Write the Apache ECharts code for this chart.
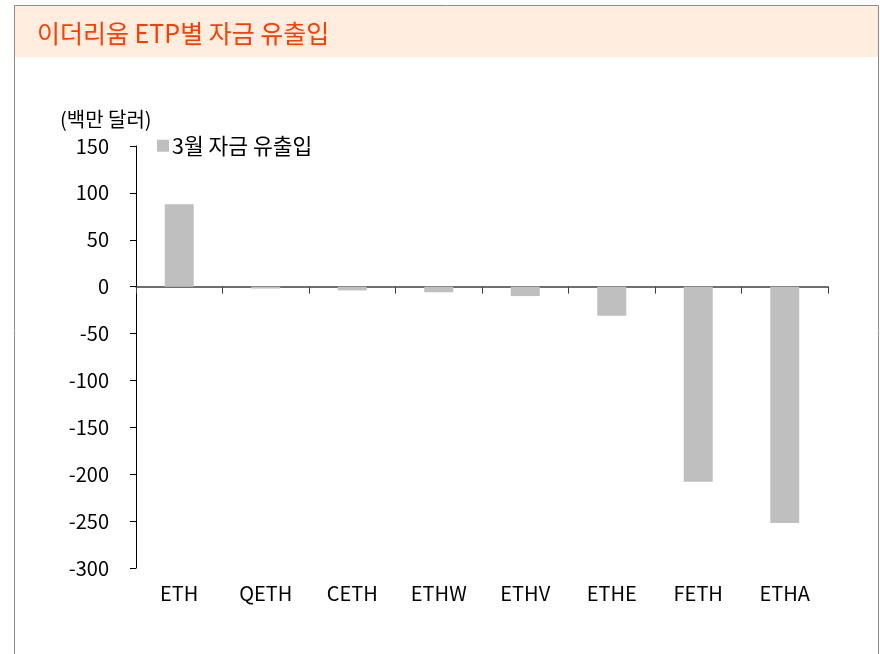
<!DOCTYPE html>
<html>
<head>
<meta charset="utf-8">
<script src="https://cdn.jsdelivr.net/npm/echarts@6/dist/echarts.min.js"></script>
<style>
  html, body { margin: 0; padding: 0; background: #fff; }
  #chart { width: 880px; height: 654px; }
</style>
</head>
<body>
<div id="chart"></div>
<script>
// ETP별 3월 자금 유출입 (백만 달러)
var categories = ['ETH', 'QETH', 'CETH', 'ETHW', 'ETHV', 'ETHE', 'FETH', 'ETHA'];
var flowMarch = [88, -2, -4, -6, -10, -31, -208, -252];
var seriesName = '3월 자금 유출입';

var font = '"Noto Sans CJK KR", "Noto Sans", sans-serif';

var chart = echarts.init(document.getElementById('chart'));

var option = {
    backgroundColor: '#fff',
    textStyle: { fontFamily: font },
    animation: false,
    graphic: [
        {   // 바깥 테두리
            type: 'rect',
            shape: { x: 14.5, y: 5.5, width: 864, height: 660 },
            style: { fill: 'none', stroke: '#8c8c8c', lineWidth: 1 },
            z: 0
        },
        {   // 제목 띠
            type: 'rect',
            shape: { x: 15, y: 6, width: 863, height: 51 },
            style: { fill: '#FFEDDF' },
            z: 0
        }
    ],
    title: [
        {
            text: '이더리움 ETP별 자금 유출입',
            left: 32,
            top: 16,
            textStyle: { color: '#FF3D00', fontSize: 25, fontWeight: 'normal', fontFamily: font }
        },
        {
            text: '(백만 달러)',
            left: 55,
            top: 104,
            textStyle: { color: '#000', fontSize: 20, fontWeight: 'normal', fontFamily: font }
        }
    ],
    legend: {
        left: 152,
        top: 130,
        itemWidth: 12,
        itemHeight: 12,
        itemGap: 4,
        icon: 'rect',
        textStyle: { color: '#000', fontSize: 21.5, fontFamily: font, padding: [0, 0, 0, -2] },
        data: [seriesName]
    },
    grid: { left: 136, right: 52, top: 146, bottom: 86, containLabel: false },
    xAxis: [
        {
            type: 'category',
            data: categories,
            axisLine: { onZero: true, lineStyle: { color: '#404040', width: 1.5 } },
            axisTick: { show: true, alignWithLabel: false, length: 7, lineStyle: { color: '#404040' } },
            axisLabel: { show: false }
        },
        {
            type: 'category',
            data: categories,
            position: 'bottom',
            axisLine: { show: false },
            axisTick: { show: false },
            axisLabel: { color: '#000', fontSize: 20, margin: 15, fontFamily: font }
        }
    ],
    yAxis: {
        type: 'value',
        min: -300,
        max: 150,
        interval: 50,
        axisLine: { show: true, lineStyle: { color: '#000', width: 1 } },
        axisTick: { show: true, length: 6, lineStyle: { color: '#000' } },
        axisLabel: { color: '#000', fontSize: 20, margin: 27, fontFamily: font },
        splitLine: { show: false }
    },
    series: [
        {
            name: seriesName,
            type: 'bar',
            xAxisIndex: 0,
            data: flowMarch,
            barWidth: 29,
            itemStyle: { color: '#BFBFBF' }
        }
    ]
};

chart.setOption(option);
</script>
</body>
</html>
